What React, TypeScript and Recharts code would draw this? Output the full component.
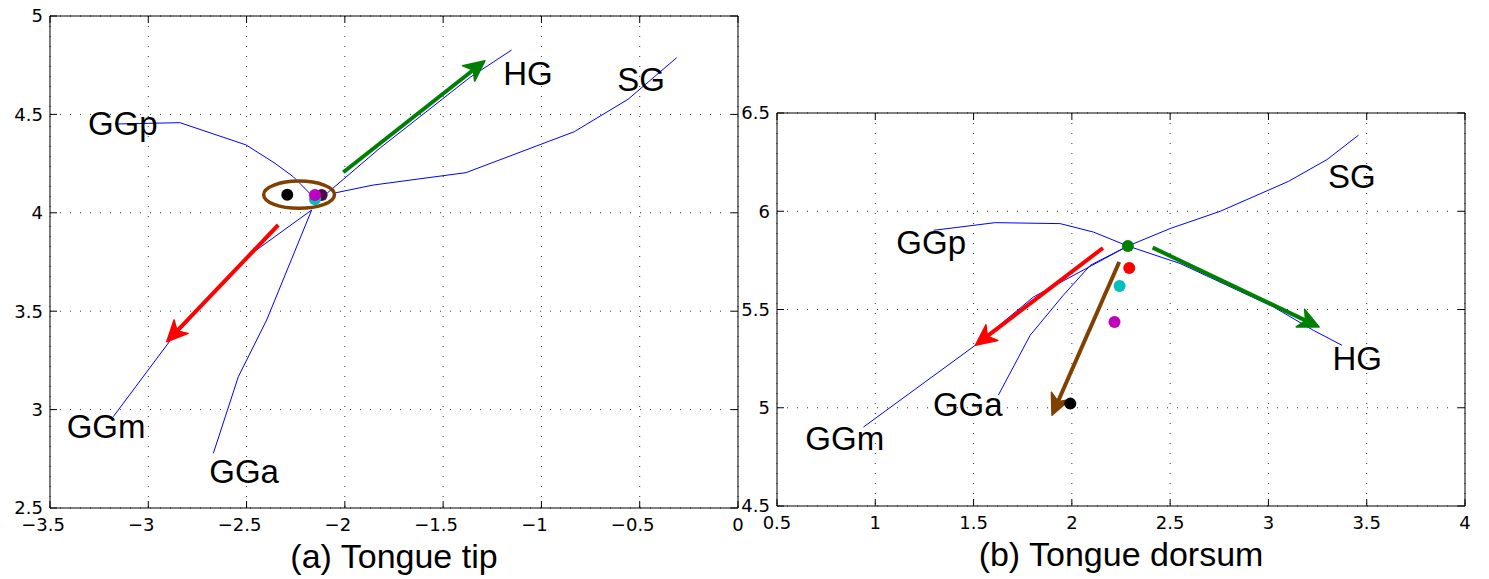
import React from "react";
import { ScatterChart, Scatter, XAxis, YAxis, CartesianGrid } from "recharts";

type Pt = { x: number; y: number };
type Lbl = { name: string; x: number; y: number };
type Ell = { x: number; y: number; rx: number; ry: number };

// ---- (a) Tongue tip ----
const tipXTicks = [-3.5, -3, -2.5, -2, -1.5, -1, -0.5, 0];
const tipYTicks = [2.5, 3, 3.5, 4, 4.5, 5];

const tipGGp: Pt[] = [
  { x: -3.169, y: 4.451 }, { x: -2.839, y: 4.458 }, { x: -2.503, y: 4.345 },
  { x: -2.356, y: 4.252 }, { x: -2.262, y: 4.183 }, { x: -2.165, y: 4.085 },
];
const tipHG: Pt[] = [
  { x: -2.09, y: 4.1 }, { x: -1.82, y: 4.33 }, { x: -1.362, y: 4.689 }, { x: -1.152, y: 4.827 },
];
const tipSG: Pt[] = [
  { x: -2.06, y: 4.099 }, { x: -1.856, y: 4.141 }, { x: -1.384, y: 4.204 },
  { x: -0.833, y: 4.412 }, { x: -0.559, y: 4.577 }, { x: -0.312, y: 4.788 },
];
const tipGGm: Pt[] = [
  { x: -2.169, y: 4.014 }, { x: -2.508, y: 3.769 }, { x: -2.893, y: 3.345 }, { x: -3.178, y: 2.964 },
];
const tipGGa: Pt[] = [
  { x: -2.169, y: 4.014 }, { x: -2.356, y: 3.557 }, { x: -2.398, y: 3.455 },
  { x: -2.542, y: 3.167 }, { x: -2.669, y: 2.778 },
];
const tipArrowHG: Pt[] = [{ x: -2.008, y: 4.206 }, { x: -1.287, y: 4.773 }];
const tipArrowGGm: Pt[] = [{ x: -2.339, y: 3.938 }, { x: -2.906, y: 3.345 }];
const tipBlack: Pt[] = [{ x: -2.293, y: 4.092 }];
const tipPurple: Pt[] = [{ x: -2.118, y: 4.09 }];
const tipCyan: Pt[] = [{ x: -2.152, y: 4.069 }];
const tipMagenta: Pt[] = [{ x: -2.152, y: 4.09 }];
const tipEllipse: Ell[] = [{ x: -2.233, y: 4.092, rx: 0.18, ry: 0.069 }];
const tipLabels: Lbl[] = [
  { name: "GGp", x: -3.307, y: 4.395 },
  { name: "HG", x: -1.194, y: 4.649 },
  { name: "SG", x: -0.614, y: 4.619 },
  { name: "GGm", x: -3.415, y: 2.856 },
  { name: "GGa", x: -2.69, y: 2.627 },
];

// ---- (b) Tongue dorsum ----
const dorsumXTicks = [0.5, 1, 1.5, 2, 2.5, 3, 3.5, 4];
const dorsumYTicks = [4.5, 5, 5.5, 6, 6.5];

const dorsumGGp: Pt[] = [
  { x: 1.297, y: 5.903 }, { x: 1.61, y: 5.942 }, { x: 1.941, y: 5.937 },
  { x: 2.11, y: 5.894 }, { x: 2.285, y: 5.823 },
];
const dorsumHG: Pt[] = [
  { x: 2.285, y: 5.823 }, { x: 2.551, y: 5.734 }, { x: 3.026, y: 5.513 },
  { x: 3.229, y: 5.394 }, { x: 3.374, y: 5.318 },
];
const dorsumSG: Pt[] = [
  { x: 2.285, y: 5.823 }, { x: 2.5, y: 5.912 }, { x: 2.755, y: 6.0 },
  { x: 3.102, y: 6.152 }, { x: 3.298, y: 6.263 }, { x: 3.458, y: 6.387 },
];
const dorsumGGm: Pt[] = [
  { x: 2.285, y: 5.823 }, { x: 1.805, y: 5.564 }, { x: 1.509, y: 5.318 }, { x: 0.94, y: 4.902 },
];
const dorsumGGa: Pt[] = [
  { x: 2.285, y: 5.823 }, { x: 2.094, y: 5.725 }, { x: 1.956, y: 5.572 },
  { x: 1.788, y: 5.369 }, { x: 1.626, y: 5.064 },
];
const dorsumArrowHG: Pt[] = [{ x: 2.411, y: 5.815 }, { x: 3.258, y: 5.411 }];
const dorsumArrowGGm: Pt[] = [{ x: 2.158, y: 5.813 }, { x: 1.509, y: 5.318 }];
const dorsumArrowGGa: Pt[] = [{ x: 2.241, y: 5.742 }, { x: 1.899, y: 4.962 }];
const dorsumGreen: Pt[] = [{ x: 2.285, y: 5.823 }];
const dorsumRed: Pt[] = [{ x: 2.292, y: 5.711 }];
const dorsumCyan: Pt[] = [{ x: 2.243, y: 5.62 }];
const dorsumMagenta: Pt[] = [{ x: 2.217, y: 5.436 }];
const dorsumBlack: Pt[] = [{ x: 1.992, y: 5.021 }];
const dorsumLabels: Lbl[] = [
  { name: "GGp", x: 1.107, y: 5.784 },
  { name: "SG", x: 3.303, y: 6.12 },
  { name: "HG", x: 3.326, y: 5.194 },
  { name: "GGa", x: 1.293, y: 4.956 },
  { name: "GGm", x: 0.644, y: 4.787 },
];

const BLUE = "#0000ff";
const GREEN = "#008000";
const RED = "#ff0000";
const BROWN = "#804000";
const FONT = "'Liberation Sans', Arial, Helvetica, sans-serif";
const TICK_FONT = "'DejaVu Sans', sans-serif";

const Hidden = () => <g />;

// shaft + notched, filled head (quiver style)
const ArrowLine = (props: any) => {
  const { points, color } = props;
  if (!points || points.length < 2) return null;
  const a = points[0];
  const b = points[1];
  const ang = Math.atan2(b.y - a.y, b.x - a.x);
  const c = Math.cos(ang);
  const s = Math.sin(ang);
  const L = 23;
  const w = 0.44;
  const p1x = b.x - L * Math.cos(ang - w);
  const p1y = b.y - L * Math.sin(ang - w);
  const p2x = b.x - L * Math.cos(ang + w);
  const p2y = b.y - L * Math.sin(ang + w);
  const nx = b.x - 15 * c;
  const ny = b.y - 15 * s;
  return (
    <g>
      <line x1={a.x} y1={a.y} x2={nx + 2 * c} y2={ny + 2 * s} stroke={color} strokeWidth={4} />
      <path
        d={`M${b.x},${b.y} L${p1x},${p1y} L${nx},${ny} L${p2x},${p2y} Z`}
        fill={color}
        stroke={color}
        strokeWidth={1.5}
        strokeLinejoin="round"
      />
    </g>
  );
};

const XTick = (props: any) => {
  const { x, y, payload } = props;
  const v = payload.value as number;
  const txt = v < 0 ? "\u2212" + String(Math.abs(v)) : String(v);
  return (
    <text
      x={x}
      y={y + 23}
      dx={v < 0 ? -7 : 0}
      textAnchor="middle"
      fontSize={18}
      fontFamily={TICK_FONT}
      fill="#000"
    >
      {txt}
    </text>
  );
};

const YTick = (props: any) => {
  const { x, y, payload } = props;
  return (
    <text x={x} y={y} dy="0.36em" textAnchor="end" fontSize={18} fontFamily={TICK_FONT} fill="#000">
      {String(payload.value)}
    </text>
  );
};

interface PanelProps {
  left: number;
  width: number;
  margin: { top: number; right: number; bottom: number; left: number };
  yWidth: number;
  xHeight: number;
  xDomain: [number, number];
  yDomain: [number, number];
  xTicks: number[];
  yTicks: number[];
  plotW: number;
  plotH: number;
  lines: Pt[][];
  arrows: { data: Pt[]; color: string }[];
  dots: { data: Pt[]; color: string }[];
  ellipse?: Ell[];
  labels: Lbl[];
  title: string;
  titleOffset: number;
}

const Panel = (p: PanelProps) => {
  const kx = p.plotW / (p.xDomain[1] - p.xDomain[0]);
  const ky = p.plotH / (p.yDomain[1] - p.yDomain[0]);
  return (
    <div style={{ position: "absolute", left: p.left, top: 0 }}>
      <ScatterChart width={p.width} height={579} margin={p.margin}>
        <CartesianGrid xAxisId="b" yAxisId="l" stroke="#333" strokeDasharray="1 9" />
        <XAxis
          xAxisId="b"
          type="number"
          dataKey="x"
          domain={p.xDomain}
          ticks={p.xTicks}
          interval={0}
          allowDataOverflow
          height={p.xHeight}
          tickSize={-7}
          tickMargin={7}
          axisLine={{ stroke: "#000" }}
          tickLine={{ stroke: "#000" }}
          tick={<XTick />}
          label={{ value: p.title, position: "insideBottom", offset: p.titleOffset, fontSize: 34, fill: "#000" }}
        />
        <XAxis
          xAxisId="t"
          orientation="top"
          type="number"
          dataKey="x"
          domain={p.xDomain}
          ticks={p.xTicks}
          interval={0}
          allowDataOverflow
          height={1}
          tickSize={-7}
          axisLine={{ stroke: "#000" }}
          tickLine={{ stroke: "#000" }}
          tick={Hidden}
        />
        <YAxis
          yAxisId="l"
          type="number"
          dataKey="y"
          domain={p.yDomain}
          ticks={p.yTicks}
          interval={0}
          allowDataOverflow
          width={p.yWidth}
          tickSize={-7}
          tickMargin={14}
          axisLine={{ stroke: "#000" }}
          tickLine={{ stroke: "#000" }}
          tick={<YTick />}
        />
        <YAxis
          yAxisId="r"
          orientation="right"
          type="number"
          dataKey="y"
          domain={p.yDomain}
          ticks={p.yTicks}
          interval={0}
          allowDataOverflow
          width={1}
          tickSize={-7}
          axisLine={{ stroke: "#000" }}
          tickLine={{ stroke: "#000" }}
          tick={Hidden}
        />
        {p.lines.map((d, i) => (
          <Scatter
            key={"l" + i}
            xAxisId="b"
            yAxisId="l"
            data={d}
            line={{ stroke: BLUE, strokeWidth: 1 }}
            lineJointType="linear"
            shape={Hidden}
            isAnimationActive={false}
          />
        ))}
        {p.arrows.map((a, i) => (
          <Scatter
            key={"a" + i}
            xAxisId="b"
            yAxisId="l"
            data={a.data}
            line={<ArrowLine color={a.color} />}
            shape={Hidden}
            isAnimationActive={false}
          />
        ))}
        {p.dots.map((d, i) => (
          <Scatter
            key={"d" + i}
            xAxisId="b"
            yAxisId="l"
            data={d.data}
            shape={(s: any) => <circle cx={s.cx} cy={s.cy} r={6} fill={d.color} />}
            isAnimationActive={false}
          />
        ))}
        {p.ellipse && (
          <Scatter
            xAxisId="b"
            yAxisId="l"
            data={p.ellipse}
            shape={(s: any) => (
              <ellipse
                cx={s.cx}
                cy={s.cy}
                rx={s.payload.rx * kx}
                ry={s.payload.ry * ky}
                fill="none"
                stroke={BROWN}
                strokeWidth={3.5}
              />
            )}
            isAnimationActive={false}
          />
        )}
        <Scatter
          xAxisId="b"
          yAxisId="l"
          data={p.labels}
          shape={(s: any) => (
            <text x={s.cx} y={s.cy} fontSize={33} fill="#000">
              {s.payload.name}
            </text>
          )}
          isAnimationActive={false}
        />
      </ScatterChart>
    </div>
  );
};

export default function App() {
  return (
    <div
      style={{
        position: "absolute",
        left: 0,
        top: 0,
        width: 1489,
        height: 579,
        background: "#fff",
        fontFamily: FONT,
      }}
    >
      <Panel
        left={0}
        width={750}
        margin={{ top: 15, right: 11, bottom: 0, left: 0 }}
        yWidth={50}
        xHeight={71}
        xDomain={[-3.5, 0]}
        yDomain={[2.5, 5]}
        xTicks={tipXTicks}
        yTicks={tipYTicks}
        plotW={688}
        plotH={492}
        lines={[tipGGp, tipHG, tipSG, tipGGm, tipGGa]}
        arrows={[
          { data: tipArrowHG, color: GREEN },
          { data: tipArrowGGm, color: RED },
        ]}
        dots={[
          { data: tipBlack, color: "#000" },
          { data: tipPurple, color: "#4b0a40" },
          { data: tipCyan, color: "#00bfbf" },
          { data: tipMagenta, color: "#bf00bf" },
        ]}
        ellipse={tipEllipse}
        labels={tipLabels}
        title="(a) Tongue tip"
        titleOffset={11}
      />
      <Panel
        left={735}
        width={754}
        margin={{ top: 112, right: 23, bottom: 0, left: 0 }}
        yWidth={42}
        xHeight={73}
        xDomain={[0.5, 4]}
        yDomain={[4.5, 6.5]}
        xTicks={dorsumXTicks}
        yTicks={dorsumYTicks}
        plotW={688}
        plotH={393}
        lines={[dorsumGGp, dorsumHG, dorsumSG, dorsumGGm, dorsumGGa]}
        arrows={[
          { data: dorsumArrowHG, color: GREEN },
          { data: dorsumArrowGGm, color: RED },
          { data: dorsumArrowGGa, color: BROWN },
        ]}
        dots={[
          { data: dorsumBlack, color: "#000" },
          { data: dorsumMagenta, color: "#bf00bf" },
          { data: dorsumCyan, color: "#00bfbf" },
          { data: dorsumRed, color: RED },
          { data: dorsumGreen, color: GREEN },
        ]}
        labels={dorsumLabels}
        title="(b) Tongue dorsum"
        titleOffset={13}
      />
    </div>
  );
}
